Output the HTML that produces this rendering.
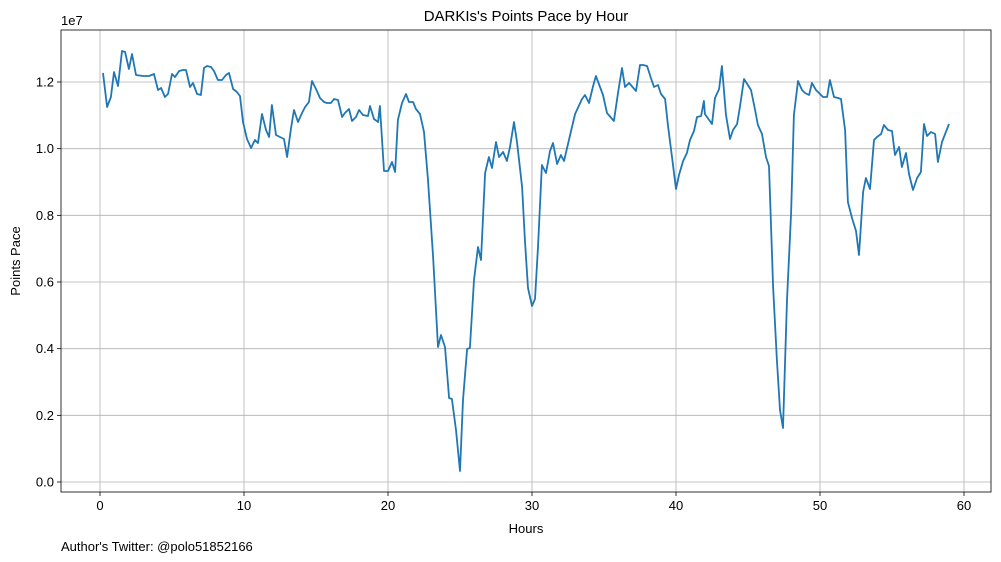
<!DOCTYPE html>
<html><head><meta charset="utf-8"><style>
body{margin:0;background:#fff;}
svg{display:block;font-family:"Liberation Sans","DejaVu Sans",sans-serif;}
</style></head><body>
<svg id="chart" width="1001" height="562">
<rect width="1001" height="562" fill="#fff"/>
<g id="grid"></g>
<g id="axes"></g>
<g id="series"></g>
<rect x="61" y="30" width="930" height="462" fill="none" stroke="#000" stroke-width="0.8"/>
<text x="526" y="21" text-anchor="middle" font-size="15">DARKIs's Points Pace by Hour</text>
<text x="526" y="533" text-anchor="middle" font-size="13">Hours</text>
<text transform="translate(20,261) rotate(-90)" text-anchor="middle" font-size="13">Points Pace</text>
<text x="61" y="25" font-size="13">1e7</text>
<text x="61" y="551" font-size="13">Author's Twitter: @polo51852166</text>
</svg>
<script>
const hours=[0.21,0.49,0.76,0.97,1.25,1.53,1.74,2.01,2.22,2.50,2.99,3.40,3.75,4.03,4.24,4.51,4.72,5.00,5.21,5.49,5.76,5.97,6.25,6.46,6.74,7.01,7.22,7.43,7.71,7.92,8.19,8.47,8.75,8.96,9.24,9.51,9.72,9.93,10.21,10.49,10.76,10.97,11.25,11.53,11.74,11.94,12.22,12.50,12.78,12.99,13.26,13.47,13.75,14.03,14.24,14.51,14.72,15.00,15.28,15.56,15.76,16.04,16.25,16.53,16.81,17.01,17.29,17.50,17.78,17.99,18.26,18.61,18.75,19.03,19.31,19.44,19.72,20.00,20.28,20.49,20.69,20.97,21.25,21.46,21.74,21.94,22.22,22.50,22.78,23.13,23.47,23.68,23.96,24.24,24.44,24.72,25.00,25.21,25.49,25.69,25.97,26.25,26.46,26.74,27.01,27.22,27.50,27.71,27.99,28.26,28.47,28.75,28.96,29.31,29.51,29.72,30.00,30.21,30.42,30.69,30.97,31.25,31.46,31.74,32.01,32.22,32.50,32.78,32.99,33.47,33.68,33.96,34.24,34.44,34.93,35.21,35.69,35.97,36.25,36.46,36.74,37.22,37.50,37.71,37.99,38.26,38.47,38.75,38.96,39.24,39.44,39.72,40.00,40.21,40.49,40.76,40.97,41.25,41.46,41.74,41.94,42.01,42.50,42.71,42.99,43.19,43.47,43.75,43.96,44.24,44.44,44.72,45.21,45.49,45.69,45.97,46.25,46.46,46.74,47.01,47.22,47.43,47.71,47.99,48.19,48.47,48.75,48.96,49.24,49.44,49.72,50.00,50.21,50.49,50.69,50.97,51.25,51.46,51.74,51.94,52.22,52.50,52.71,52.99,53.19,53.47,53.75,53.96,54.24,54.44,54.72,55.00,55.21,55.49,55.69,55.97,56.18,56.46,56.74,57.01,57.22,57.43,57.71,57.99,58.19,58.47,58.96];
const paceMillions=[12.27,11.25,11.55,12.30,11.88,12.93,12.90,12.39,12.84,12.21,12.18,12.18,12.24,11.76,11.82,11.55,11.64,12.24,12.15,12.33,12.36,12.36,11.85,11.97,11.64,11.61,12.42,12.48,12.45,12.33,12.06,12.06,12.21,12.27,11.79,11.70,11.58,10.80,10.29,10.02,10.26,10.17,11.04,10.56,10.35,11.31,10.41,10.35,10.29,9.75,10.59,11.16,10.80,11.07,11.25,11.40,12.03,11.79,11.52,11.40,11.37,11.37,11.49,11.46,10.95,11.07,11.19,10.83,10.95,11.16,11.01,10.98,11.28,10.89,10.80,11.28,9.33,9.33,9.60,9.30,10.86,11.37,11.64,11.40,11.40,11.19,11.04,10.50,9.06,6.75,4.05,4.41,4.05,2.52,2.49,1.56,0.33,2.46,3.99,4.02,6.06,7.05,6.66,9.27,9.75,9.42,10.20,9.75,9.90,9.63,10.05,10.80,10.20,8.85,7.26,5.82,5.28,5.49,7.05,9.51,9.27,9.93,10.17,9.54,9.81,9.63,10.14,10.65,11.04,11.49,11.61,11.37,11.88,12.18,11.61,11.07,10.83,11.67,12.42,11.85,11.97,11.73,12.51,12.51,12.48,12.12,11.85,11.91,11.64,11.49,10.71,9.75,8.79,9.21,9.63,9.87,10.26,10.53,10.95,10.98,11.43,11.04,10.74,11.52,11.79,12.48,11.01,10.29,10.56,10.74,11.25,12.09,11.76,11.16,10.71,10.44,9.75,9.48,5.85,3.66,2.16,1.62,5.46,8.07,11.01,12.03,11.76,11.67,11.61,11.97,11.76,11.64,11.55,11.55,12.06,11.55,11.52,11.49,10.56,8.40,7.92,7.53,6.81,8.70,9.12,8.79,10.26,10.35,10.44,10.71,10.56,10.53,9.81,10.05,9.45,9.87,9.24,8.76,9.12,9.30,10.74,10.38,10.50,10.44,9.60,10.20,10.74];
const xTicks=[0,10,20,30,40,50,60];
const yTicks=[0,2,4,6,8,10,12];
const yTickLabels=["0.0","0.2","0.4","0.6","0.8","1.0","1.2"];

const NS="http://www.w3.org/2000/svg";
const X0=61,X1=991,Y0=30,Y1=492,XMIN=-2.708,XMAX=61.875,YMIN=-0.3,YMAX=13.56;
function xs(v){return X0+(v-XMIN)/(XMAX-XMIN)*(X1-X0);}
function ys(v){return Y1-(v-YMIN)/(YMAX-YMIN)*(Y1-Y0);}
function mk(tag,attrs,parent){const e=document.createElementNS(NS,tag);for(const k in attrs)e.setAttribute(k,attrs[k]);parent.appendChild(e);return e;}
const grid=document.getElementById('grid'),axes=document.getElementById('axes'),series=document.getElementById('series');
xTicks.forEach(t=>{const x=xs(t);
 const g=mk('line',{x1:x,x2:x,y1:Y0,y2:Y1,stroke:'#b0b0b0','stroke-width':0.8},grid);
 
 
 mk('line',{x1:x,x2:x,y1:Y1,y2:Y1+4,stroke:'#000','stroke-width':0.8},axes);
 const tl=mk('text',{x:x,y:Y1+18,'text-anchor':'middle','font-size':13},axes);tl.textContent=t;
 
 
});
yTicks.forEach((t,i)=>{const y=ys(t);
 const g=mk('line',{x1:X0,x2:X1,y1:y,y2:y,stroke:'#b0b0b0','stroke-width':0.8},grid);
 
 
 mk('line',{x1:X0-4,x2:X0,y1:y,y2:y,stroke:'#000','stroke-width':0.8},axes);
 const tl=mk('text',{x:X0-7,y:y+4.5,'text-anchor':'end','font-size':13},axes);tl.textContent=yTickLabels[i];
 
 
});
const pts=hours.map((h,i)=>xs(h).toFixed(1)+','+ys(paceMillions[i]).toFixed(1)).join(' ');
const line=mk('polyline',{points:pts,fill:'none',stroke:'#1f77b4','stroke-width':1.8,'stroke-linejoin':'round'},series);


</script>
</body></html>
